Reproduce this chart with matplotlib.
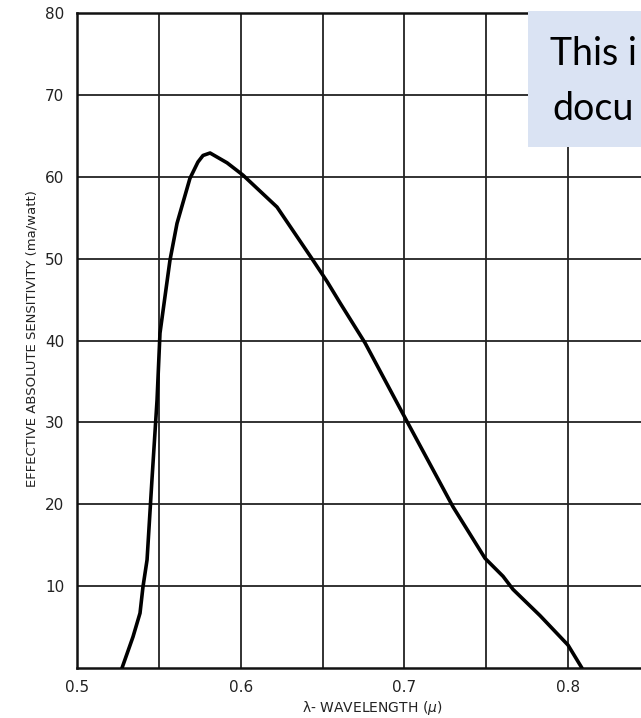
import matplotlib.pyplot as plt
import numpy as np

# curve
wavelength = [0.5275, 0.5342, 0.5385, 0.5403, 0.5428, 0.5458, 0.5489, 0.5507,
              0.5568, 0.5611, 0.5690, 0.5739, 0.5770, 0.5813, 0.5917, 0.6014,
              0.6222, 0.6442, 0.6528, 0.6607, 0.6760, 0.7022, 0.7297, 0.7493,
              0.7603, 0.7664, 0.7829, 0.8000, 0.8085]
sensitivity = [0.0, 3.8, 6.7, 9.9, 13.2, 23.0, 32.7, 40.9,
               49.8, 54.3, 59.8, 61.8, 62.6, 62.9, 61.7, 60.2,
               56.3, 49.8, 47.2, 44.6, 39.7, 29.9, 19.7, 13.4,
               11.2, 9.6, 6.4, 2.8, 0.0]

x_ticks = [0.5, 0.6, 0.7, 0.8]
x_tick_labels = ["0.5", "0.6", "0.7", "0.8"]
y_ticks = [10, 20, 30, 40, 50, 60, 70, 80]

W, H = 641, 718
fig = plt.figure(figsize=(W / 100, H / 100), dpi=100)
ax = fig.add_axes([77 / W, 1 - 668 / H, 1 - 77 / W, (668 - 13) / H])

ax.set_xlim(0.5, 0.5 + (W - 77) / 1636.7)
ax.set_ylim(0, 80)

# grid every 0.05 / 10
for gx in np.arange(0.55, 0.84, 0.05):
    ax.axvline(gx, color="#222222", lw=1.3, zorder=1)
for gy in range(10, 80, 10):
    ax.axhline(gy, color="#222222", lw=1.3, zorder=1)

ax.plot(wavelength, sensitivity, color="black", lw=2.6,
        solid_joinstyle="round", solid_capstyle="round", zorder=3)

ax.set_xticks(x_ticks)
ax.set_xticklabels(x_tick_labels)
ax.set_yticks(y_ticks)
ax.tick_params(length=0, labelsize=11, pad=9, colors="#222222")

for side in ["left", "bottom", "top"]:
    ax.spines[side].set_linewidth(1.8)
    ax.spines[side].set_color("#111111")
ax.spines["right"].set_visible(False)

fig.text(372 / W, 1 - 708 / H, r"λ- WAVELENGTH ($\mu$)", ha="center",
         va="center", fontsize=10, color="#222222")
fig.text(32 / W, 1 - 339 / H, "EFFECTIVE ABSOLUTE SENSITIVITY (ma/watt)",
         rotation=90, ha="center", va="center", fontsize=9.5, color="#222222")

# overlaid note box, cut off at the right edge
fig.patches.append(plt.Rectangle((528 / W, 1 - 147 / H), (W - 528) / W,
                                 (147 - 11) / H, transform=fig.transFigure,
                                 facecolor="#dae3f3", edgecolor="none",
                                 zorder=5))
fig.text(550 / W, 1 - 65 / H, "This i", fontsize=27, family="Lato",
         va="baseline", zorder=6)
fig.text(552 / W, 1 - 120 / H, "docu", fontsize=27, family="Lato",
         va="baseline", zorder=6)

fig.savefig("out.png", dpi=100)
